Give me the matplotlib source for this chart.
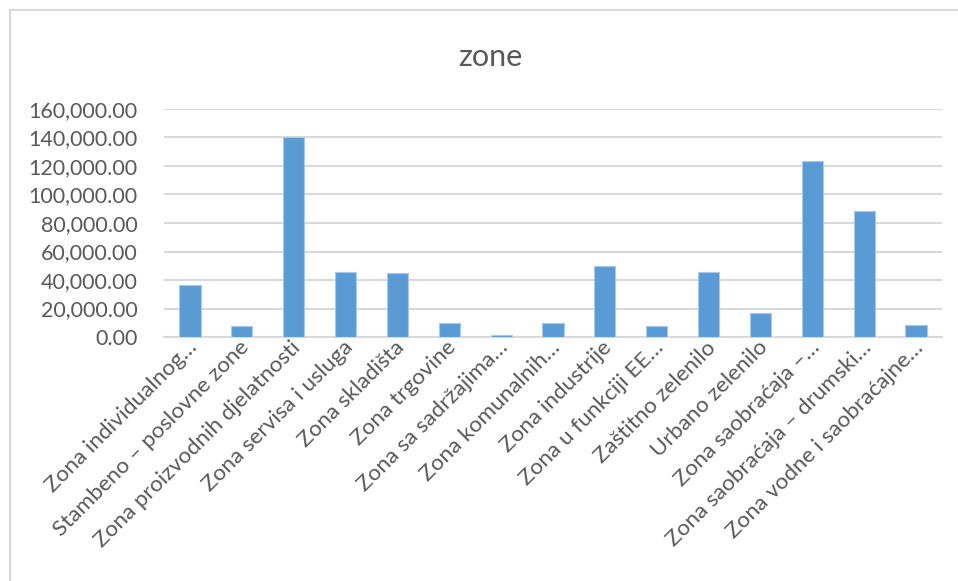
import matplotlib
matplotlib.use('Agg')
from matplotlib import pyplot as plt
from matplotlib.lines import Line2D
from matplotlib.ticker import FuncFormatter
import matplotlib.transforms as mtransforms
import numpy as np

TITLE = 'zone'

zones = [
    'Zona individualnog…',
    'Stambeno – poslovne zone',
    'Zona proizvodnih djelatnosti',
    'Zona servisa i usluga',
    'Zona skladišta',
    'Zona trgovine',
    'Zona sa sadržajima…',
    'Zona komunalnih…',
    'Zona industrije',
    'Zona u funkciji EE…',
    'Zaštitno zelenilo',
    'Urbano zelenilo',
    'Zona saobraćaja –…',
    'Zona saobraćaja – drumski…',
    'Zona vodne i saobraćajne…',
]

areas = [36500, 7700, 140000, 45600, 44700, 9600, 1400, 9600,
         50000, 7700, 45600, 16600, 123700, 88700, 8600]

y_ticks = [0, 20000, 40000, 60000, 80000, 100000, 120000, 140000, 160000]

BAR_COLOR = '#5b9bd5'
TEXT_COLOR = '#595959'
GRID_COLOR = '#d9d9d9'
FONT = ['Lato', 'DejaVu Sans']

W, H = 958, 581


def main():
    plt.rcParams['font.family'] = FONT
    fig = plt.figure(figsize=(W / 100, H / 100), dpi=100)
    fig.patch.set_facecolor('white')

    # plot area in pixels: left 164, right 942, top 109, bottom 337
    ax = fig.add_axes([164 / W, 1 - 337 / H, (942 - 164) / W, (337 - 109) / H])

    x = np.arange(len(zones))
    ax.bar(x, areas, width=0.41, color=BAR_COLOR, edgecolor='#a9c8ea',
           linewidth=0.8, zorder=3)

    ax.set_xlim(-0.5, len(zones) - 0.5)
    ax.set_ylim(0, 160000)
    ax.set_yticks(y_ticks)
    ax.yaxis.set_major_formatter(FuncFormatter(lambda v, p: '{:,.2f}'.format(v)))
    ax.grid(axis='y', color=GRID_COLOR, linewidth=1.5, zorder=0)
    ax.set_axisbelow(True)
    for side in ['top', 'right', 'left']:
        ax.spines[side].set_visible(False)
    ax.spines['bottom'].set_color(GRID_COLOR)
    ax.spines['bottom'].set_linewidth(1.5)

    ax.tick_params(axis='y', length=0, pad=19, labelsize=15.5, labelcolor=TEXT_COLOR)
    ax.tick_params(axis='x', length=0, pad=6, labelsize=16.2, labelcolor=TEXT_COLOR)
    ax.set_xticks(x)
    ax.set_xticklabels(zones, rotation=45, ha='right', va='center',
                       rotation_mode='anchor')
    offset = mtransforms.ScaledTranslation(4 / 100, 1 / 100, fig.dpi_scale_trans)
    for lbl in ax.get_xticklabels():
        lbl.set_transform(lbl.get_transform() + offset)

    fig.text(490 / W, 1 - 57 / H, TITLE, ha='center', va='center',
             fontsize=22, color=TEXT_COLOR)

    # chart area border (cropped screenshot: only left and top edges show)
    fig.add_artist(Line2D([9.5 / W, 9.5 / W], [0, 1 - 10 / H], transform=fig.transFigure,
                          color=GRID_COLOR, linewidth=1.5))
    fig.add_artist(Line2D([9.5 / W, 1], [1 - 10 / H, 1 - 10 / H], transform=fig.transFigure,
                          color=GRID_COLOR, linewidth=1.5))

    fig.savefig('out.png', dpi=100, facecolor='white')


if __name__ == '__main__':
    main()
